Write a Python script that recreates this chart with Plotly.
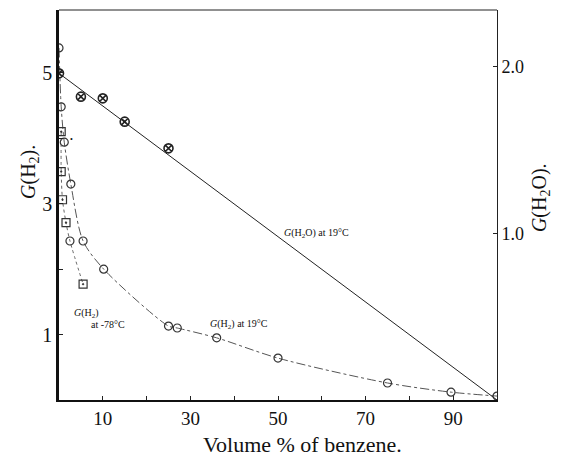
import plotly.graph_objects as go

# Volume % of benzene and G values for each series
h2o_x = [0, 5, 10, 15, 25]
h2o_g = [1.96, 1.82, 1.81, 1.67, 1.51]
h2o_fit_x = [0, 100]
h2o_fit_g = [1.96, 0.0]

h2_19_x = [0, 0.5, 1.2, 2.7, 5.5, 10.2, 25, 27, 36, 50, 75, 89.5, 100]
h2_19_g = [5.38, 4.48, 3.94, 3.30, 2.43, 2.00, 1.13, 1.10, 0.95, 0.64, 0.26, 0.12, 0.06]

h2_78_x = [0.5, 0.5, 0.8, 1.6, 2.5, 5.5]
h2_78_g = [4.10, 3.49, 3.06, 2.71, 2.43, 1.77]
h2_78_sym = ["square-open-dot", "square-open-dot", "square-open-dot",
             "square-open-dot", "circle-open", "square-open-dot"]

x_ticks = [10, 20, 30, 40, 50, 60, 70, 80, 90]
x_ticktext = ["10", "", "30", "", "50", "", "70", "", "90"]
left_ticks = [1, 2, 3, 4, 5]
left_ticktext = ["1", "", "3", "", "5"]
right_ticks = [1.0, 2.0]
right_ticktext = ["1.0", "2.0"]

SERIF = "Liberation Serif, DejaVu Serif, serif"

fig = go.Figure()

# G(H2O) at 19 C: straight line and its points (right axis)
fig.add_trace(go.Scatter(
    x=h2o_fit_x, y=h2o_fit_g, yaxis="y2", mode="lines",
    line=dict(color="#222", width=1), hoverinfo="skip", showlegend=False))
fig.add_trace(go.Scatter(
    x=h2o_x, y=h2o_g, yaxis="y2", mode="markers",
    marker=dict(symbol="circle-x-open", size=9, color="#222",
                line=dict(width=1.6)),
    showlegend=False))

# G(H2) at 19 C (left axis)
fig.add_trace(go.Scatter(
    x=h2_19_x, y=h2_19_g, mode="lines+markers",
    line=dict(color="#555", width=1, dash="dashdot", shape="spline", smoothing=0.8),
    marker=dict(symbol="circle-open", size=8, color="#333", line=dict(width=1.2)),
    showlegend=False))

# G(H2) at -78 C (left axis)
fig.add_trace(go.Scatter(
    x=h2_78_x, y=h2_78_g, mode="lines+markers",
    line=dict(color="#666", width=1, dash="dot", shape="spline", smoothing=0.8),
    marker=dict(symbol=h2_78_sym, size=8, color="#333", line=dict(width=1.2)),
    showlegend=False))

fig.update_layout(
    width=565, height=464,
    margin=dict(l=59, r=68, t=10, b=64),
    paper_bgcolor="white", plot_bgcolor="white",
    font=dict(family=SERIF, size=18, color="#111"),
    xaxis=dict(range=[0, 100], tickvals=x_ticks, ticktext=x_ticktext,
               ticks="inside", ticklen=4, tickcolor="#222",
               showline=True, linecolor="#111", linewidth=2,
               showgrid=False, zeroline=False, mirror=False,
               tickfont=dict(family=SERIF, size=19)),
    yaxis=dict(range=[0, 5.96], tickvals=left_ticks, ticktext=left_ticktext,
               ticks="inside", ticklen=4, tickcolor="#222",
               showline=True, linecolor="#111", linewidth=2.5,
               showgrid=False, zeroline=False, mirror=False,
               tickfont=dict(family=SERIF, size=20)),
    yaxis2=dict(range=[0, 2.34], overlaying="y", side="right",
                tickvals=right_ticks, ticktext=right_ticktext,
                ticks="inside", ticklen=4, tickcolor="#222",
                showline=True, linecolor="#222", linewidth=1,
                showgrid=False, zeroline=False,
                tickfont=dict(family=SERIF, size=18)),
    shapes=[dict(type="line", xref="paper", yref="paper", x0=0, x1=1, y0=1, y1=1,
                 line=dict(color="#222", width=1))],
)

annotations = [
    dict(text="Volume % of benzene.", xref="paper", yref="paper",
         x=0.555, y=-0.113, xanchor="center", yanchor="middle",
         font=dict(family=SERIF, size=22)),
    dict(text="<i>G</i>(H<sub>2</sub>).", xref="paper", yref="paper",
         x=-0.066, y=0.585, textangle=-90, xanchor="center", yanchor="middle",
         font=dict(family=SERIF, size=20)),
    dict(text="<i>G</i>(H<sub>2</sub>O).", xref="paper", yref="paper",
         x=1.098, y=0.52, textangle=-90, xanchor="center", yanchor="middle",
         font=dict(family=SERIF, size=20)),
    dict(text="<i>G</i>(H<sub>2</sub>O) at 19°C", x=58.7, y=2.54,
         xanchor="center", yanchor="middle",
         font=dict(family=SERIF, size=10)),
    dict(text="<i>G</i>(H<sub>2</sub>) at 19°C", x=41, y=1.16,
         xanchor="center", yanchor="middle",
         font=dict(family=SERIF, size=10)),
    dict(text="<i>G</i>(H<sub>2</sub>)", x=6.3, y=1.32,
         xanchor="center", yanchor="middle",
         font=dict(family=SERIF, size=10)),
    dict(text="at -78°C", x=11.3, y=1.16,
         xanchor="center", yanchor="middle",
         font=dict(family=SERIF, size=10)),
    dict(text="•", x=2.9, y=3.98, xanchor="center", yanchor="middle",
         font=dict(family=SERIF, size=8)),
]
for a in annotations:
    a["showarrow"] = False
fig.update_layout(annotations=annotations)

fig.write_html("out.html")
